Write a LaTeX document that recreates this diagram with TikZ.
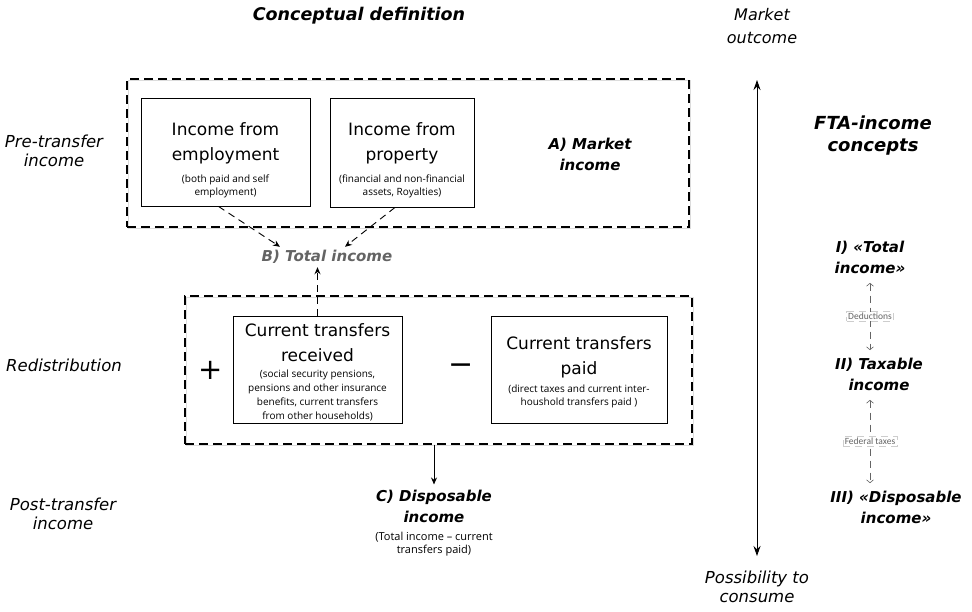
\documentclass[tikz,border=0pt]{standalone}
\usepackage{fontspec}
\setmainfont{DejaVu Sans}
\newfontfamily\tagfont{Carlito}
\newfontfamily\subfont{Open Sans}
\usetikzlibrary{arrows.meta}
\definecolor{tgrey}{RGB}{100,100,100}
\definecolor{lgrey}{RGB}{205,205,205}
\tikzset{every picture/.style={x=1pt,y=-1pt}}
\tikzset{srcbox/.style={draw,line width=0.9pt,inner sep=0pt}}
\tikzset{boxtext/.style={align=center,inner sep=0pt,font=\fontsize{17}{25}\selectfont}}
\tikzset{dashbox/.style={draw,line width=1.3pt,dash pattern=on 9pt off 5pt,inner sep=0pt,
  preaction={draw=lgrey!70,solid,line width=1.3pt,transform canvas={shift={(1.3pt,-1.3pt)}}}}}
\tikzset{side/.style={align=center,font=\fontsize{16.5}{19}\selectfont\itshape}}
\tikzset{head/.style={align=center,font=\fontsize{15}{21}\selectfont\bfseries\itshape}}
\tikzset{arr/.style={-{Stealth[length=7pt,width=6pt]},line width=0.9pt}}
\tikzset{dasharr/.style={arr,dash pattern=on 7pt off 5pt}}
\tikzset{deduc/.style={{Straight Barb[length=3pt,width=7pt]}-{Straight Barb[length=3pt,width=7pt]},tgrey,line width=0.6pt,dash pattern=on 7pt off 5pt}}
\tikzset{tag/.style={draw=lgrey,fill=white,line width=0.5pt,inner sep=1.5pt,font=\tagfont\fontsize{9.5}{11}\selectfont}}
\newcommand{\sub}[1]{{\subfont\fontsize{10}{12}\selectfont #1}}
\newcommand{\csub}[1]{{\subfont\mdseries\upshape\fontsize{11}{13}\selectfont #1}}

\begin{document}
\begin{tikzpicture}
\useasboundingbox (0,0) rectangle (972,611);

% headings
\node [font=\fontsize{17.5}{22}\selectfont\bfseries\itshape] (title) at (359,16) {Conceptual definition};
\node [align=center,font=\fontsize{16}{23}\selectfont\itshape] (outcome) at (762,26) {Market\\outcome};
\node [side] (consume) at (757,587) {Possibility to\\consume};

% left side labels
\node [side] (pre) at (54,151) {Pre-transfer\\income};
\node [side] (redist) at (64,365) {Redistribution};
\node [side] (post) at (63,514) {Post-transfer\\income};

% market income
\node [dashbox,minimum width=562,minimum height=148] (mktbox) at (408,153) {};
\node [srcbox,minimum width=169,minimum height=108] (emp) at (225.5,152) {};
\node [boxtext] (emptxt) at ([yshift=-8pt]emp.center) {Income from\\employment\\[-3pt]\sub{(both paid and self}\\[-12pt]\sub{employment)}};
\node [srcbox,minimum width=144,minimum height=109] (prop) at (402,152.5) {};
\node [boxtext] (proptxt) at ([yshift=-8pt]prop.center) {Income from\\property\\[-3pt]\sub{(financial and non-financial}\\[-12pt]\sub{assets, Royalties)}};
\node [head] (mkt) at (590,154) {A) Market\\income};

\node [head,text=tgrey] (total) at (327,257) {B) Total income};

% redistribution
\node [dashbox,minimum width=507,minimum height=148] (redbox) at (438.5,370) {};
\node [srcbox,minimum width=169,minimum height=107] (recv) at (317.5,369.5) {};
\node [boxtext] (recvtxt) at ([yshift=-3pt]recv.center) {Current transfers\\received\\[-9pt]\sub{(social security pensions,}\\[-11pt]\sub{pensions and other insurance}\\[-11pt]\sub{benefits, current transfers}\\[-11pt]\sub{from other households)}};
\node [srcbox,minimum width=176,minimum height=107] (paid) at (579,369.5) {};
\node [boxtext] (paidtxt) at ([yshift=-3pt]paid.center) {Current transfers\\paid\\[-7pt]\sub{(direct taxes and current inter-}\\[-12pt]\sub{houshold transfers paid )}};
\node [font=\fontsize{29}{29}\selectfont] (plus) at (211,370) {+};
\node [font=\fontsize{30}{30}\selectfont] (minus) at (461,369) {−};

\node [head] (disp) at (434,523) {C) Disposable\\income\\[-3pt]\csub{(Total income – current}\\[-8pt]\csub{transfers paid)}};

\draw [dasharr] ([xshift=-7pt]emp.south) -- ([xshift=-47pt]total.north);
\draw [dasharr] ([xshift=-7pt]prop.south) -- ([xshift=18pt]total.north);
\draw [dasharr] (recv.north) -- (recv.north |- total.south);
\draw [arr] (disp.north |- redbox.south) -- ([yshift=2pt]disp.north);

% range of outcomes
\coordinate (top) at (757,80);
\coordinate (bot) at (757,556);
\draw [arr,{Stealth[length=10pt,width=7pt]}-{Stealth[length=10pt,width=7pt]}] (top) -- (bot);

% FTA concepts
\node [align=center,font=\fontsize{18}{22}\selectfont\bfseries\itshape] (fta) at (873,136) {FTA-income\\concepts};
\node [head] (fta1) at (870,257) {I) «Total\\income»};
\node [head] (fta2) at (879,374) {II) Taxable\\income};
\node [head] (fta3) at (896,507) {III) «Disposable\\income»};
\draw [deduc] ([yshift=-6pt]fta1.south) -- node [tag] {Deductions} ([yshift=4pt]fta1.south |- fta2.north);
\draw [deduc] ([yshift=-6pt]fta1.south |- fta2.south) -- node [tag] {Federal taxes} ([yshift=4pt]fta1.south |- fta3.north);
\end{tikzpicture}
\end{document}
